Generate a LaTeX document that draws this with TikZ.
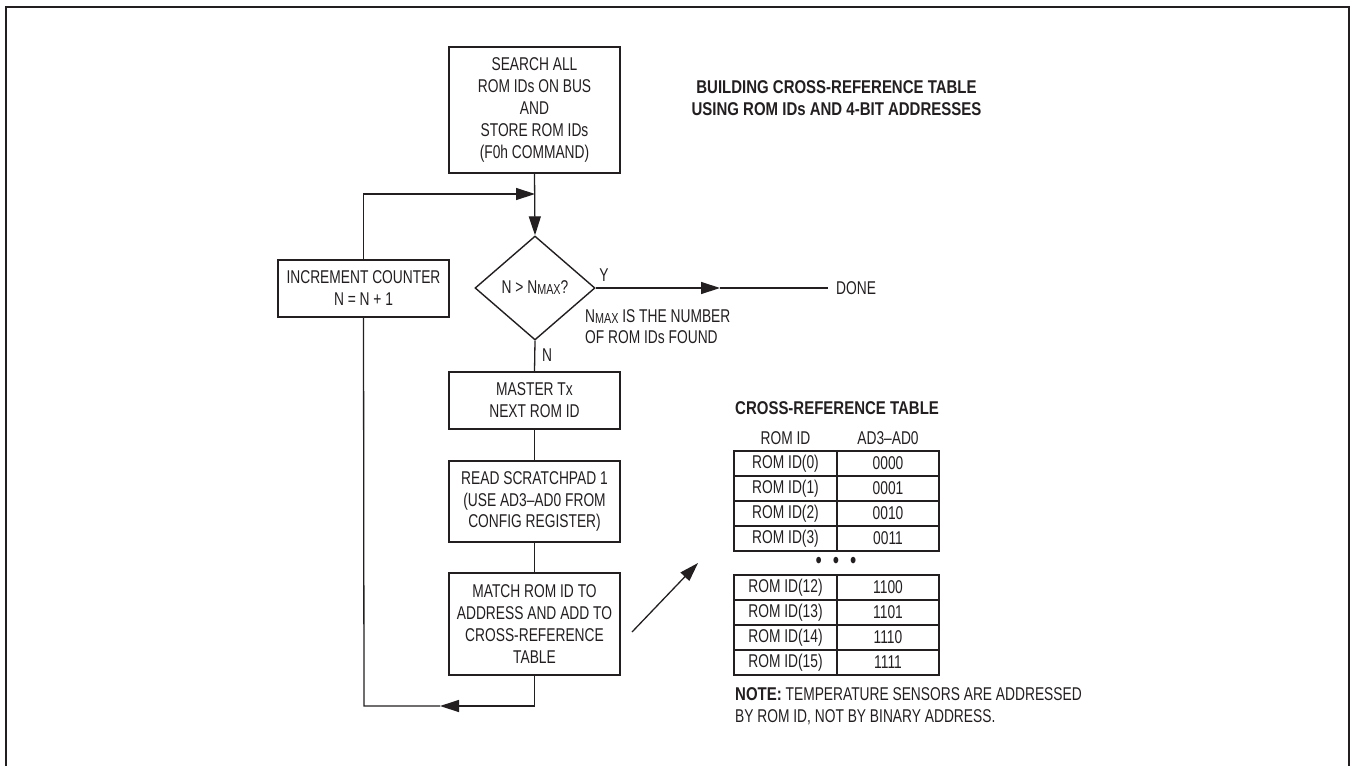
\documentclass[tikz,border=0pt]{standalone}
\usepackage{fontspec}
\setmainfont{Liberation Sans}[FakeStretch=0.745]
\newfontfamily\titlef{Liberation Sans}[FakeStretch=0.81]
\usetikzlibrary{shapes.geometric,arrows.meta}
\definecolor{ink}{HTML}{231F20}
\newcommand\nmaxsub{{\fontsize{14.5}{14.5}\selectfont\raisebox{-1pt}{MAX}}}
\begin{document}
\begin{tikzpicture}[x=1pt,y=-1pt,
  every node/.style={text=ink, font=\fontsize{18.5}{22}\selectfont},
  box/.style={draw=ink, line width=1.4pt, minimum width=171pt, align=center, inner sep=0pt},
  conn/.style={draw=ink, line width=1.3pt},
  arr/.style={conn, -{Triangle[length=19pt,width=12pt]}},
  lbl/.style={inner sep=0pt},
  boldtxt/.style={font=\titlef\bfseries\fontsize{18.5}{22}\selectfont},
  cell/.style={draw=ink, line width=1.4pt, minimum height=25pt, inner sep=0pt},
]
\useasboundingbox (0,0) rectangle (1351,766);
\draw[ink, line width=2.4pt] (6,766) -- (6,7) -- (1349,7) -- (1349,766);

% flowchart boxes
\node[box, minimum height=126pt] (search) at (534.5,110) {SEARCH ALL\\ROM IDs ON BUS\\AND\\STORE ROM IDs\\(F0h COMMAND)};
\node[diamond, draw=ink, line width=1.4pt, minimum width=120pt, minimum height=104pt, inner sep=0pt] (dec) at (535,288) {N > N\nmaxsub?};
\node[box, minimum height=57pt] (inc) at (363.5,288.5) {INCREMENT COUNTER\\N = N + 1};
\node[box, minimum height=57pt] (master) at (534.5,400.5) {MASTER Tx\\NEXT ROM ID};
\node[box, minimum height=81pt, font=\fontsize{18.5}{21.5}\selectfont] (read) at (534.5,501.5) {READ SCRATCHPAD 1\\(USE AD3–AD0 FROM\\CONFIG REGISTER)};
\node[box, minimum height=102pt, font=\fontsize{18.5}{21.7}\selectfont] (match) at (534.5,624) {MATCH ROM ID TO\\ADDRESS AND ADD TO\\CROSS-REFERENCE\\TABLE};

% labels
\node[lbl] (ylbl) at (604,275) {Y};
\node[lbl] (nlbl) at (547,355) {N};
\node[lbl, anchor=west] (done) at (836,288) {DONE};
\node[lbl, anchor=west, align=left, font=\fontsize{18.5}{21}\selectfont] (nmaxnote) at (585,326.5) {N\nmaxsub{} IS THE NUMBER\\OF ROM IDs FOUND};
\node[lbl, boldtxt, align=center] (title) at (836.5,98) {BUILDING CROSS-REFERENCE TABLE\\USING ROM IDs AND 4-BIT ADDRESSES};

% connectors
\coordinate (join) at (535,194);
\coordinate (ytip) at (720,288);
\coordinate (btip) at (440,706);
\coordinate (bcorner) at (364,706);
\coordinate (d1) at (632,632);
\coordinate (d2) at (698,563);
\draw[arr] (search.south) -- (dec.north);
\draw[arr] (inc.north) |- (join);
\draw[arr] (dec.east) -- (ytip);
\draw[conn, shorten >=8pt] (ytip) -- (done.west);
\draw[conn] (dec.south) -- (master.north);
\draw[conn] (master.south) -- (read.north);
\draw[conn] (read.south) -- (match.north);
\draw[arr] (match.south) |- (btip);
\draw[conn] (btip) -- (bcorner) -- (inc.south);
\draw[arr] (d1) -- (d2);

% cross-reference table
\node[lbl, anchor=west, boldtxt] (ttitle) at (735,408) {CROSS-REFERENCE TABLE};
\node[lbl] (hrom) at (785.5,438) {ROM ID};
\node[lbl] (had) at (888,438) {AD3–AD0};
\foreach \n/\id/\ad/\y in {0/0/0000/463.5, 1/1/0001/488.5, 2/2/0010/513.5, 3/3/0011/538.5,
                           4/12/1100/587.5, 5/13/1101/612.5, 6/14/1110/637.5, 7/15/1111/662.5}{
  \node[cell, minimum width=103pt] (l\n) at (785.5,\y) {ROM ID(\id)};
  \node[cell, minimum width=102pt] (r\n) at (888,\y) {\ad};
}
\node[lbl, font=\fontsize{24}{24}\selectfont] (dots) at (836,563) {•\hspace{11pt}•\hspace{11pt}•};
\node[lbl, anchor=west, align=left] (note) at (735,706) {{\titlef\bfseries NOTE:} TEMPERATURE SENSORS ARE ADDRESSED\\BY ROM ID, NOT BY BINARY ADDRESS.};
\end{tikzpicture}
\end{document}
